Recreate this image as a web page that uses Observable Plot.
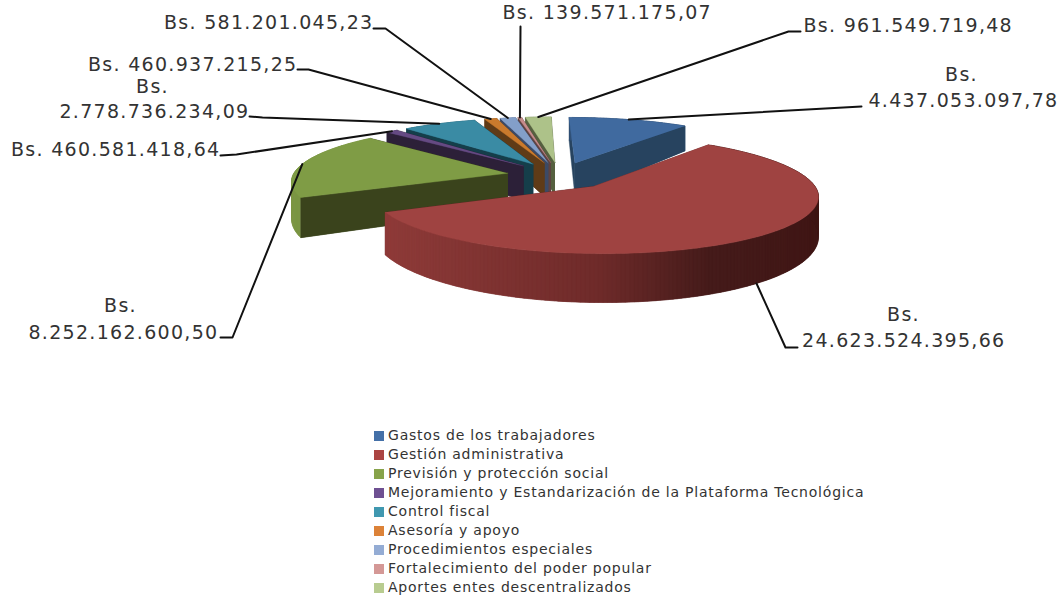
<!DOCTYPE html>
<html><head><meta charset="utf-8">
<script src="https://cdn.jsdelivr.net/npm/d3@7"></script>
<script src="https://cdn.jsdelivr.net/npm/@observablehq/plot@0.6"></script>
<style>
html,body{margin:0;padding:0;background:#fff;overflow:hidden}
#chart text{letter-spacing:1.3px}
#legend{position:absolute;left:374px;top:426px;font:14px "DejaVu Sans",sans-serif;color:#333;letter-spacing:.78px}
#legend div{height:19px;line-height:19px;white-space:nowrap}
#legend i{display:inline-block;width:10px;height:10px;margin-right:4px;vertical-align:-1px}
</style></head><body>
<div id="chart"></div><div id="legend"></div>
<script>
const categories = ["Gastos de los trabajadores","Gestión administrativa","Previsión y protección social","Mejoramiento y Estandarización de la Plataforma Tecnológica","Control fiscal","Asesoría y apoyo","Procedimientos especiales","Fortalecimiento del poder popular","Aportes entes descentralizados"];
const values = [4437053097.78,24623524395.66,8252162600.50,460581418.64,2778736234.09,460937215.25,581201045.23,139571175.07,961549719.48];
const valueLabels = ["4.437.053.097,78","24.623.524.395,66","8.252.162.600,50","460.581.418,64","2.778.736.234,09","460.937.215,25","581.201.045,23","139.571.175,07","961.549.719,48"];
const topColors = ["#406a9f","#9f4341","#7f9c45","#654a83","#3a8ba4","#ca7a2d","#839fc9","#c78c8b","#adc289"];
const faceColors = ["#27435f","#5e2625","#3a431c","#2c2038","#153e4a","#5f3b17","#3c4a66","#5e4342","#55603f"];
const rimColors = ["#2f4f75",null,"#7b9643","#4b3762","#2b6a7d","#98601f","#627aa0","#96696a","#84966a"];
const swatchColors = ["#4470a8","#ab4442","#87a34a","#6e5092","#4098b0","#dc8238","#94acd4","#d49896","#b8cc90"];

// Pie projection layout
const W = 1063, H = 599, CX = 559, CY = 175, RX = 215, RY = 55, EXPL = 0.245, P = 0.136, SKEW = 4, DEPTH = 36, DQ = 0.3;
const total = d3.sum(values);
let acc = 0;
const slices = values.map((v,i)=>{const a0=acc/total*2*Math.PI; acc+=v; const a1=acc/total*2*Math.PI; return {i,a0,a1,mid:(a0+a1)/2};});
function project(U,V,bottom){
  const s = 1/(1-P*V);
  return {x: CX+RX*U*s+SKEW*V, y: CY+RY*V*s + (bottom? bottom*DEPTH*(1+DQ*V):0)};
}
const off = s=>({U:EXPL*Math.sin(s.mid),V:-EXPL*Math.cos(s.mid)});
const rimPt = (s,a,b)=>{const o=off(s);return project(o.U+Math.sin(a),o.V-Math.cos(a),b);};
const apexPt = (s,b)=>{const o=off(s);return project(o.U,o.V,b);};
function arcAngles(a0,a1){const n=Math.max(2,Math.ceil((a1-a0)/(Math.PI/180)));return d3.range(n+1).map(k=>a0+(a1-a0)*k/n);}

const redShade = d3.scaleLinear().domain([385,603,715,821]).range(["#8f3b39","#6f2b2a","#451b1a","#401615"]);
const polys=[]; let pid=0;
function addPoly(pts,color){const id=pid++; pts.forEach(p=>polys.push({id,color,x:p.x,y:p.y}));}
for(const i of [8,7,6,5,4,3,2,0,1]){
  const s=slices[i], as=arcAngles(s.a0,s.a1);
  const face=a=>addPoly([apexPt(s,0),rimPt(s,a,0),rimPt(s,a,1),apexPt(s,1)],faceColors[i]);
  // faces turned away from the viewer go under the rim
  face(s.a0); face(s.a1);
  // rim wall: each band runs over its neighbour so no seams show
  for(let k=as.length-2;k>=0;k--){
    const e=as[Math.min(k+2,as.length-1)];
    const a=rimPt(s,as[k],0),b=rimPt(s,e,0),c=rimPt(s,e,1),d=rimPt(s,as[k],1);
    addPoly([a,rimPt(s,as[k+1],0),b,c,rimPt(s,as[k+1],1),d], i===1? redShade(a.x):rimColors[i]);
  }
  // faces turned toward the viewer go over the rim
  if(s.a0>=Math.PI) face(s.a0);
  if(s.a1<=Math.PI) face(s.a1);
  // top
  addPoly([apexPt(s,0),...as.map(a=>rimPt(s,a,0))],topColors[i]);
}

// Label layout: [text, x, y, anchor]
const labelRows = [
 ["Bs. "+valueLabels[6],373,22,"end"],
 ["Bs. "+valueLabels[7],502,12,"start"],
 ["Bs. "+valueLabels[8],803,25,"start"],
 ["Bs.",961,74,"middle"],[valueLabels[0],1058,100,"end"],
 ["Bs. "+valueLabels[5],297,64,"end"],
 ["Bs.",152,86,"middle"],[valueLabels[4],249,111,"end"],
 ["Bs. "+valueLabels[3],220,149,"end"],
 ["Bs.",120,305,"middle"],[valueLabels[2],218,332,"end"],
 ["Bs.",903,314,"middle"],[valueLabels[1],1005,340,"end"]
];
const labels=labelRows.map(([text,x,y,anchor])=>({text,x,y,anchor}));
// leader elbows per slice, ending on the slice's mid-angle rim
const leaderStarts = {0:[[861,106]],1:[[797,347],[785,347]],2:[[220,337],[232,337]],3:[[220,155],[236,154]],4:[[249,116],[262,117]],5:[[297,69],[308,69]],6:[[373,28],[385,28]],7:[[520,26]],8:[[800,31],[788,31]]};
const leaders=[];
Object.entries(leaderStarts).forEach(([k,pts])=>{
  const s=slices[+k], end=rimPt(s,s.mid,+k===1?1:0);
  [...pts,[end.x,end.y]].forEach(p=>leaders.push({k:+k,x:p[0],y:p[1]}));
});

const textFont='"DejaVu Sans",sans-serif';
const chart=Plot.plot({
  width:W,height:H,margin:0,
  x:{domain:[0,W],range:[0,W],axis:null},
  y:{domain:[0,H],range:[0,H],axis:null},
  color:{type:"identity"},
  marks:[
    Plot.line(polys,{x:"x",y:"y",z:"id",fill:"color",stroke:"color",strokeWidth:0.4}),
    Plot.line(leaders,{x:"x",y:"y",z:"k",stroke:"#111",strokeWidth:2}),
    ...["start","middle","end"].map(a=>Plot.text(labels.filter(d=>d.anchor===a),{x:"x",y:"y",text:"text",textAnchor:a,lineAnchor:"middle",fontSize:19,fontFamily:textFont,fill:"#333"}))
  ]
});
document.getElementById("chart").appendChild(chart);
const lg=document.getElementById("legend");
categories.forEach((c,i)=>{const d=document.createElement("div");const sw=document.createElement("i");sw.style.background=swatchColors[i];d.appendChild(sw);d.appendChild(document.createTextNode(c));lg.appendChild(d);});
</script></body></html>
